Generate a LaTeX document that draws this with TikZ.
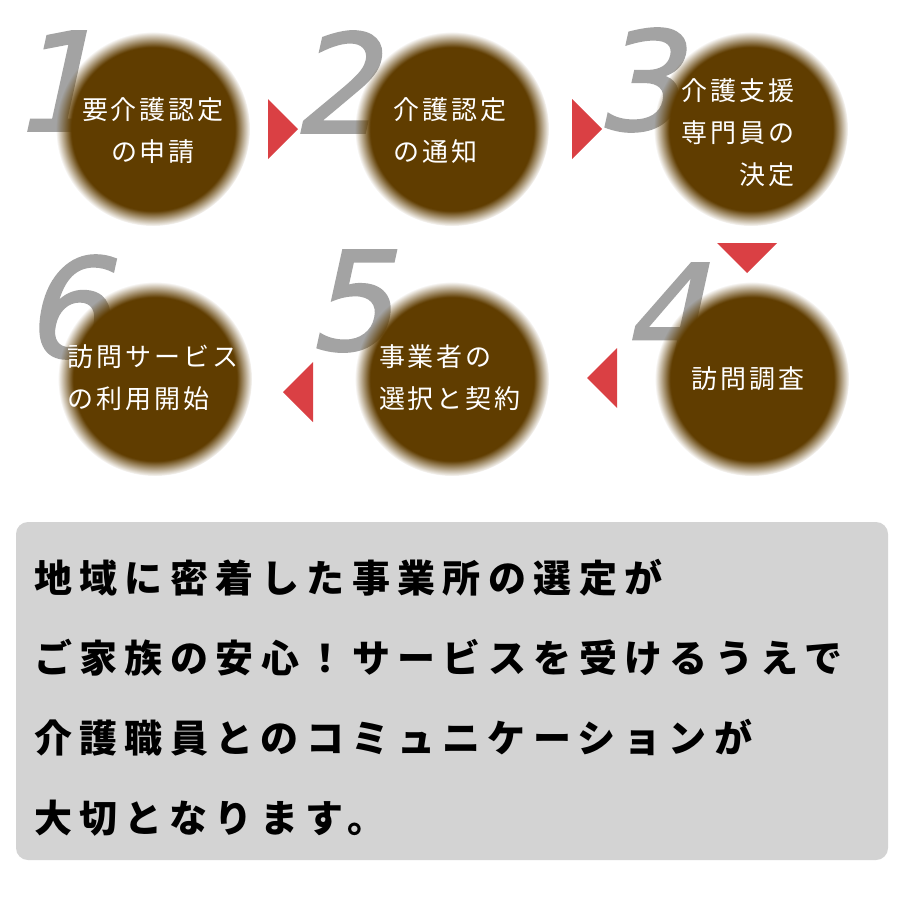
\documentclass[tikz,border=0pt]{standalone}
\usepackage{fontspec}
\usetikzlibrary{fadings}
\newfontfamily\circlefont{Noto Sans CJK JP}[LetterSpace=11.5]
\newfontfamily\boxfont{Noto Sans CJK JP}[LetterSpace=19.5]
\newfontfamily\numfont{DejaVu Sans}[FakeSlant=0.22, FakeBold=1.5]
\definecolor{discbrown}{RGB}{96,61,0}
\definecolor{numgrey}{RGB}{163,163,163}
\definecolor{arrowred}{RGB}{218,64,68}
\definecolor{boxgrey}{RGB}{211,211,211}
\pgfdeclareradialshading{discmask}{\pgfpointorigin}{color(0bp)=(pgftransparent!0); color(21bp)=(pgftransparent!0); color(23bp)=(pgftransparent!50); color(25bp)=(pgftransparent!100); color(50bp)=(pgftransparent!100)}
\pgfdeclarefading{discfade}{\pgfuseshading{discmask}}
\begin{document}
\begin{tikzpicture}[x=1pt, y=-1pt]
\tikzstyle{disc} = [circle, minimum size=194pt, inner sep=0pt, fill=discbrown, path fading=discfade]
\tikzstyle{num} = [font=\fontsize{137}{137}\numfont, text=numgrey, inner sep=0pt]
\tikzstyle{steptext} = [font=\fontsize{26}{42}\circlefont, text=white, inner sep=0pt]
\tikzstyle{msgbox} = [rectangle, rounded corners=12pt, fill=boxgrey, minimum width=872pt, minimum height=338pt, inner sep=0pt]
\tikzstyle{msgtext} = [font=\fontsize{38}{80}\boxfont\bfseries, align=left, inner sep=0pt, anchor=west]

\fill[white] (0,0) rectangle (900,900);

% step numbers, behind the discs
\node[num] (n1) at (55,81) {1};
\node[num] (n2) at (335,82) {2};
\node[num] (n3) at (638,80) {3};
\node[num] (n4) at (665,313) {4};
\node[num] (n5) at (350,301) {5};
\node[num] (n6) at (66,307) {6};

% discs
\node[disc] (c1) at (153,129) {};
\node[disc] (c2) at (452,129) {};
\node[disc] (c3) at (751,129) {};
\node[disc] (c4) at (752,379) {};
\node[disc] (c5) at (452,379) {};
\node[disc] (c6) at (155,379) {};

\node[steptext, align=center] (t1) at (153,131) {要介護認定\\の申請};
\node[steptext, align=left] (t2) at (450,131) {介護認定\\の通知};
\node[steptext, align=right] (t3) at (738,133) {介護支援\\専門員の\\決定};
\node[steptext] (t4) at (748,379) {訪問調査};
\node[steptext, align=left] (t5) at (450,378) {事業者の\\選択と契約};
\node[steptext, align=left] (t6) at (153,378) {訪問サービス\\の利用開始};

% arrows between the steps
\fill[arrowred] (268,99) -- (298,129) -- (268,159) -- cycle;
\fill[arrowred] (572,99) -- (602,129) -- (572,159) -- cycle;
\fill[arrowred] (717,243) -- (777,243) -- (747,273) -- cycle;
\fill[arrowred] (617,348) -- (587,378) -- (617,408) -- cycle;
\fill[arrowred] (313,362) -- (283,392) -- (313,422) -- cycle;

% message
\node[msgbox] (msg) at (452,691) {};
\node[msgtext] (msgtxt) at (34,698) {地域に密着した事業所の選定が\\ご家族の安心！サービスを受けるうえで\\介護職員とのコミュニケーションが\\大切となります。};
\end{tikzpicture}
\end{document}
